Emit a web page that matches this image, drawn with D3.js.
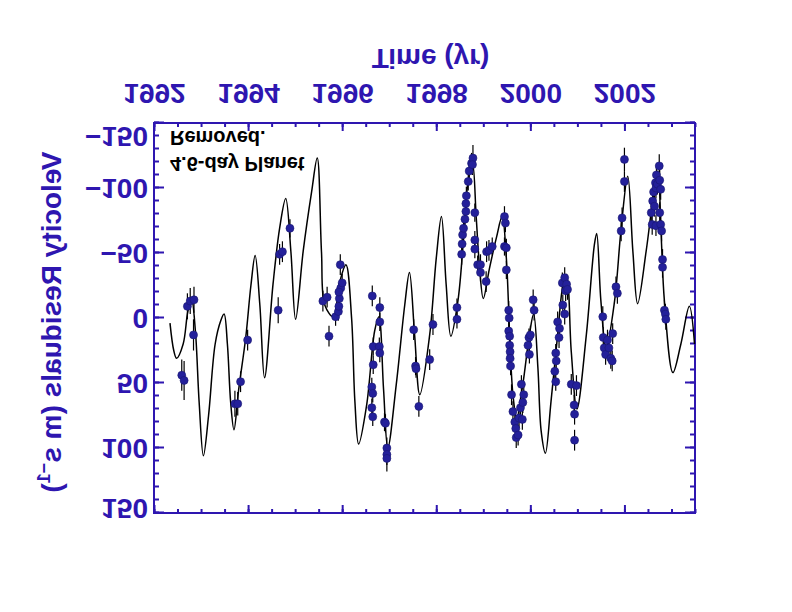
<!DOCTYPE html>
<html><head><meta charset="utf-8">
<script src="https://cdn.jsdelivr.net/npm/d3@7"></script>
<style>body{margin:0;background:#fff}svg{display:block}</style>
</head><body>
<svg id="c" width="792" height="612"></svg>
<script>
// ---- data ----
const xTickYears = [1992, 1994, 1996, 1998, 2000, 2002];
const yTickValues = [-150, -100, -50, 0, 50, 100, 150];
const xTitle = "Time (yr)";
const yTitle = "Velocity Residuals (m s";
const yTitleSup = "\u22121";
const noteLines = ["4.6-day Planet", "Removed."];

const curveYear = [1992.34,1992.42,1992.48,1992.62,1992.72,1992.80,1992.88,1992.96,1993.05,1993.16,1993.30,1993.42,1993.49,1993.56,1993.63,1993.70,1993.80,1993.95,1994.06,1994.15,1994.25,1994.35,1994.53,1994.67,1994.80,1994.91,1995.01,1995.17,1995.35,1995.47,1995.56,1995.63,1995.81,1995.95,1996.08,1996.20,1996.27,1996.35,1996.52,1996.69,1996.78,1996.88,1996.97,1997.15,1997.33,1997.43,1997.54,1997.65,1997.86,1998.00,1998.11,1998.21,1998.31,1998.46,1998.57,1998.67,1998.77,1998.85,1998.92,1999.00,1999.13,1999.28,1999.40,1999.49,1999.56,1999.63,1999.71,1999.84,1999.98,2000.07,2000.16,2000.23,2000.32,2000.44,2000.58,2000.70,2000.77,2000.87,2000.99,2001.19,2001.36,2001.41,2001.50,2001.61,2001.79,2001.93,2002.07,2002.18,2002.28,2002.46,2002.60,2002.71,2002.78,2002.85,2003.03,2003.20,2003.38,2003.49];
const curveVel = [4,25,31,20,-5,-14,10,65,106,75,20,2,-3,20,65,86,55,15,-25,-48,-10,46,-26,-69,-92,-51,1,-51,-97,-123,-51,-10,-1,-28,-41,0,64,97,67,10,-1,55,100,51,-10,-35,13,59,13,-46,-78,-26,14,-13,-56,-103,-119,-77,-39,-15,-38,-62,-78,-46,13,59,77,51,13,-3,38,87,104,64,13,-26,-31,26,70,13,-56,-65,-13,23,-13,-69,-109,-51,-11,-51,-90,-113,-64,-13,42,20,-9,20];

const obsYear = [1992.59,1992.64,1992.71,1992.77,1992.85,1992.84,
 1993.72,1993.78,1993.84,1993.99,
 1994.64,1994.67,1994.73,1994.89,
 1995.59,1995.68,1995.72,1995.86,1995.92,1995.93,1995.96,1995.94,1995.97,1996.00,1995.93,
 1996.64,1996.66,1996.66,1996.63,1996.65,1996.63,1996.65,
 1996.80,1996.80,1996.79,1996.80,
 1996.90,1996.92,1996.95,1996.95,1996.95,
 1997.52,1997.56,1997.57,1997.63,1997.86,1997.93,
 1998.44,1998.44,1998.54,1998.55,1998.56,1998.58,1998.61,1998.63,1998.63,1998.64,1998.68,1998.70,1998.75,1998.78,1998.77,1998.82,1998.82,1998.82,1998.88,1998.94,1998.94,
 1999.06,1999.07,1999.12,1999.19,
 1999.45,1999.47,1999.45,1999.49,1999.49,
 1999.54,1999.55,1999.54,1999.56,1999.56,1999.57,1999.57,1999.58,
 1999.60,1999.63,1999.67,1999.69,1999.70,1999.74,1999.76,1999.79,1999.81,1999.84,1999.86,1999.83,
 1999.95,1999.97,1999.98,2000.00,
 2000.06,2000.08,
 2000.58,2000.62,2000.61,2000.54,2000.55,2000.52,2000.54,
 2000.68,2000.73,2000.75,2000.77,2000.79,2000.69,2000.73,
 2000.87,2000.98,2000.93,2000.94,2000.94,
 2001.54,2001.55,2001.57,2001.60,2001.64,2001.67,2001.71,2001.74,2001.75,
 2001.82,2001.85,
 2001.93,2001.95,
 2002.00,2002.00,
 2002.57,2002.59,2002.60,2002.62,2002.64,2002.66,2002.67,2002.68,2002.70,2002.74,2002.75,2002.77,2002.67,2002.75,2002.77,2002.79,
 2002.81,2002.81,
 2002.85,2002.87,2002.88];
const obsVel = [44,48,-9,-13,-14,13,
 66,66,49,17,
 -6,-49,-51,-69,
 -13,-16,14,-1,-5,-9,-41,-15,-23,-27,-20,
 -17,22,36,53,58,69,76,
 -8,3,22,27,
 80,81,100,105,108,
 9,37,39,68,32,5,
 -8,1,-49,-57,-64,-69,-76,-82,-88,-94,-105,-113,-119,-123,-118,-81,-60,-53,-41,-41,-35,
 -28,-51,-52,-55,
 -78,-73,-55,-54,-37,
 -6,0,10,14,21,26,31,37,
 59,72,80,85,92,90,77,69,51,65,59,78,
 21,15,28,13,
 -14,-6,
 3,8,15,27,33,41,49,
 -27,-31,-21,-26,-22,-10,-3,
 51,52,67,74,94,
 -1,15,23,28,17,23,31,33,12,
 -24,-19,
 -67,-77,
 -105,-122,
 -81,-72,-90,-97,-86,-104,-100,-110,-103,-117,-106,-99,-71,-81,-72,-67,
 -45,-39,
 -6,-3,1];
const obsErr = [12,15,10,10,10,12,
 10,9,8,8,
 10,8,8,7,
 8,8,8,7,7,7,8,7,7,7,7,
 8,7,7,7,7,7,7,
 8,7,7,7,
 7,7,8,8,10,
 8,7,7,8,8,8,
 7,7,8,7,7,7,7,7,7,7,7,7,8,10,8,7,7,7,7,8,7,
 8,8,8,7,
 8,7,7,7,7,
 7,7,7,7,7,7,7,7,
 8,8,8,8,8,8,8,8,7,8,7,8,
 8,7,7,7,
 8,8,
 8,8,8,7,7,7,7,
 8,8,8,8,8,8,8,
 8,8,8,8,8,
 8,8,8,8,8,8,8,8,8,
 8,8,
 8,8,
 8,9,
 8,8,8,8,8,8,8,8,8,9,8,8,8,8,8,8,
 8,8,
 8,8,8];

// ---- drawing ----
const W = 792, H = 612;
const blue = "#2e16b0";
const dotBlue = "#24209a";
const FONT = "'Liberation Sans', Arial, Helvetica, sans-serif";
const svg = d3.select("#c");
svg.append("rect").attr("width", W).attr("height", H).attr("fill", "#fff");

// The reference is a vertically mirrored picture: draw normally, then flip.
const g = svg.append("g").attr("transform", `translate(0,${H}) scale(1,-1)`);

const L = 154, R = 695, T = 99, B = 489;
const x = d3.scaleLinear().domain([1992, 2003.5]).range([L, R]);
const y = d3.scaleLinear().domain([-150, 150]).range([B, T]);

const minorX = d3.range(1992, 2003.51, 0.5);
const minorY = d3.range(-150, 151, 10);

function styleAxis(sel) {
  sel.select(".domain").remove();
  sel.selectAll("line").attr("stroke", blue).attr("stroke-width", 2);
  sel.selectAll("text").attr("fill", blue).attr("font-family", FONT)
     .attr("font-size", 28).attr("font-weight", "bold");
}

// minor ticks
g.append("g").attr("transform", `translate(0,${B})`)
  .call(d3.axisBottom(x).tickValues(minorX).tickSize(-4).tickFormat(""))
  .call(styleAxis);
g.append("g").attr("transform", `translate(0,${T})`)
  .call(d3.axisTop(x).tickValues(minorX).tickSize(-4).tickFormat(""))
  .call(styleAxis);
g.append("g").attr("transform", `translate(${L},0)`)
  .call(d3.axisLeft(y).tickValues(minorY).tickSize(-5).tickFormat(""))
  .call(styleAxis);
g.append("g").attr("transform", `translate(${R},0)`)
  .call(d3.axisRight(y).tickValues(minorY).tickSize(-5).tickFormat(""))
  .call(styleAxis);

// major ticks + labels
g.append("g").attr("transform", `translate(0,${B})`)
  .call(d3.axisBottom(x).tickValues(xTickYears).tickSize(-8).tickPadding(19).tickFormat(d3.format("d")))
  .call(styleAxis);
g.append("g").attr("transform", `translate(0,${T})`)
  .call(d3.axisTop(x).tickValues(xTickYears).tickSize(-8).tickFormat(""))
  .call(styleAxis);
const yAx = g.append("g").attr("transform", `translate(${L},0)`)
  .call(d3.axisLeft(y).tickValues(yTickValues).tickSize(-10).tickPadding(6)
        .tickFormat(d => d < 0 ? "\u2212" + Math.abs(d) : String(d)))
  .call(styleAxis);
// keep end labels inside the frame height, as in the reference
yAx.selectAll(".tick text").attr("transform", d => d === -150 ? "translate(0,-13)" : d === 150 ? "translate(0,5)" : null);
g.append("g").attr("transform", `translate(${R},0)`)
  .call(d3.axisRight(y).tickValues(yTickValues).tickSize(-10).tickFormat(""))
  .call(styleAxis);

// frame
g.append("rect").attr("x", L).attr("y", T).attr("width", R - L).attr("height", B - T)
  .attr("fill", "none").attr("stroke", blue).attr("stroke-width", 2);

// model curve
const plotArea = g.append("g");
plotArea.append("path")
  .datum(curveYear.map((t, i) => [t, curveVel[i]]))
  .attr("fill", "none").attr("stroke", "#000").attr("stroke-width", 1.5)
  .attr("d", d3.line().x(d => x(d[0])).y(d => y(d[1])).curve(d3.curveCatmullRom.alpha(0.5)));

// observations
const obs = obsYear.map((t, i) => ({t, v: obsVel[i], e: obsErr[i]}));
plotArea.selectAll("line.err").data(obs).join("line").attr("class", "err")
  .attr("x1", d => x(d.t)).attr("x2", d => x(d.t))
  .attr("y1", d => y(d.v - d.e)).attr("y2", d => y(d.v + d.e))
  .attr("stroke", "#000").attr("stroke-width", 1.2);
plotArea.selectAll("circle").data(obs).join("circle")
  .attr("cx", d => x(d.t)).attr("cy", d => y(d.v)).attr("r", 4)
  .attr("fill", dotBlue).attr("stroke", "#1a1870").attr("stroke-width", 0.6);

// annotation
g.append("text").attr("x", 170).attr("y", 455).text(noteLines[0])
  .attr("font-family", FONT).attr("font-size", 20).attr("font-weight", "bold").attr("fill", "#000");
g.append("text").attr("x", 170).attr("y", 481).text(noteLines[1])
  .attr("font-family", FONT).attr("font-size", 20).attr("font-weight", "bold").attr("fill", "#000");

// axis titles
g.append("text").attr("x", (L + R) / 2 + 6).attr("y", 563).attr("text-anchor", "middle")
  .attr("font-family", FONT).attr("font-size", 28).attr("font-weight", "bold").attr("fill", blue)
  .text(xTitle);
const yt = g.append("text").attr("transform", "translate(61,290) rotate(-90)").attr("text-anchor", "middle")
  .attr("font-family", FONT).attr("font-size", 28).attr("font-weight", "bold").attr("fill", blue);
yt.append("tspan").text(yTitle);
yt.append("tspan").attr("dy", -11).attr("font-size", 18).text(yTitleSup);
yt.append("tspan").attr("dy", 11).text(")");
</script>
</body></html>
